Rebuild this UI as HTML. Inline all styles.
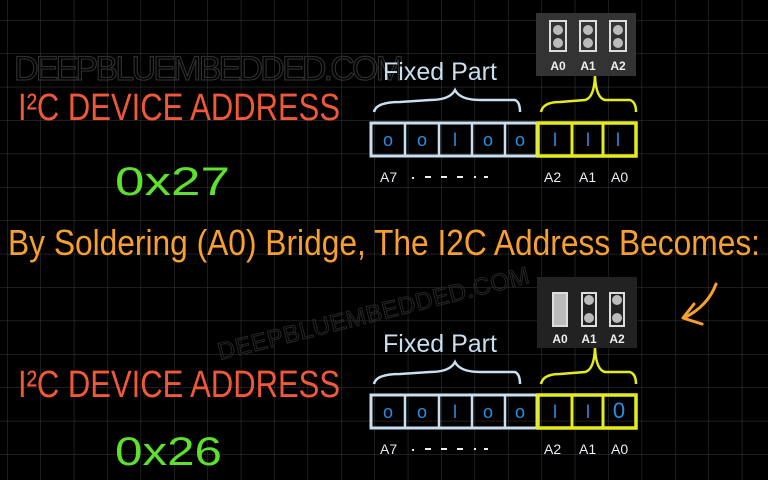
<!DOCTYPE html>
<html><head><meta charset="utf-8"><style>
html,body{margin:0;padding:0;background:#000;}
svg{display:block}
text{font-family:"Liberation Sans",sans-serif}
</style></head><body>
<svg width="768" height="480" viewBox="0 0 768 480" xmlns="http://www.w3.org/2000/svg">
<defs>
<pattern id="g" x="7" y="20" width="33.4" height="33.4" patternUnits="userSpaceOnUse">
<path d="M0 0H33.4M0 0V33.4" stroke="#3a3a3a" stroke-width="1" fill="none"/>
</pattern>
<g id="reg">
  <path d="M374 112 Q376 102 400 102 L430 100 Q450 100 455 90 Q460 100 480 100 L515 100 Q520 102 520 112" stroke="#c9dff0" stroke-width="2.5" fill="none"/>
  <path d="M541 112 Q543 102 560 102 L585 100 Q594 98 595 76 Q596 98 605 100 L630 100 Q636 102 636 112" stroke="#e6ec1c" stroke-width="2.5" fill="none"/>
  <rect x="371" y="123" width="166" height="33" fill="none" stroke="#c9dff0" stroke-width="3"/>
  <path d="M405 123V156M439 123V156M472 123V156M505 123V156" stroke="#c9dff0" stroke-width="2.5"/>
  <rect x="538" y="123" width="98" height="33" fill="none" stroke="#e6ec1c" stroke-width="3.5"/>
  <path d="M572 123V156M603 123V156" stroke="#e6ec1c" stroke-width="3"/>
  <g fill="#2a8de0" font-size="18" text-anchor="middle">
    <text x="388" y="146">o</text><text x="422" y="146">o</text><text x="455" y="146">l</text><text x="488" y="146">o</text><text x="520" y="146">o</text>
    <text x="555" y="146">l</text><text x="588" y="146">l</text>
  </g>
  <g fill="#e8eef4" font-size="14">
    <text x="380" y="182">A7</text>
    <text x="544" y="182">A2</text><text x="579" y="182">A1</text><text x="611" y="182">A0</text>
  </g>
  <path d="M412 178h2M425 177h6M441 177h6M457 177h6M474 177h2M484 177h4" stroke="#e8eef4" stroke-width="2"/>
  <text x="383" y="80" fill="#c9dff0" font-size="25">Fixed Part</text>
</g>
</defs>
<rect width="768" height="480" fill="#000"/>
<rect width="768" height="480" fill="url(#g)"/>

<text x="14" y="80" fill="none" stroke="#2e2e2e" stroke-width="1.2" font-size="34" textLength="390">DEEPBLUEMBEDDED.COM</text>
<text x="220" y="360" fill="none" stroke="#262626" stroke-width="1" font-size="24" transform="rotate(-14 220 360)" textLength="320">DEEPBLUEMBEDDED.COM</text>

<!-- top photo -->
<rect x="536" y="13" width="100" height="63" fill="#333"/>
<g fill="none" stroke="#ddd" stroke-width="2">
<rect x="550" y="21" width="16" height="30"/><rect x="580" y="21" width="16" height="30"/><rect x="610" y="21" width="16" height="30"/>
</g>
<g fill="#bbb"><circle cx="558" cy="30" r="5"/><circle cx="558" cy="43" r="5"/><circle cx="588" cy="30" r="5"/><circle cx="588" cy="43" r="5"/><circle cx="618" cy="30" r="5"/><circle cx="618" cy="43" r="5"/></g>
<g fill="#eee" font-size="12" font-weight="bold" text-anchor="middle"><text x="558" y="70">A0</text><text x="588" y="70">A1</text><text x="618" y="70">A2</text></g>

<!-- bottom photo -->
<rect x="537" y="277" width="100" height="71" fill="#222"/>
<g fill="none" stroke="#ddd" stroke-width="2">
<rect x="553" y="293" width="14" height="33" fill="#bbb"/><rect x="582" y="293" width="14" height="33"/><rect x="610" y="293" width="14" height="33"/>
</g>
<g fill="#bbb"><circle cx="589" cy="300" r="5"/><circle cx="589" cy="318" r="5"/><circle cx="617" cy="300" r="5"/><circle cx="617" cy="318" r="5"/></g>
<g fill="#eee" font-size="12" font-weight="bold" text-anchor="middle"><text x="560" y="343">A0</text><text x="589" y="343">A1</text><text x="617" y="343">A2</text></g>

<use href="#reg"/>
<g transform="translate(0,272)"><use href="#reg"/></g>
<text x="619" y="418" fill="#2a8de0" font-size="22" text-anchor="middle">0</text>
<text x="618" y="146" fill="#2a8de0" font-size="18" text-anchor="middle">l</text>

<!-- titles -->
<text x="18" y="120" fill="#f0583a" font-size="38" textLength="322" lengthAdjust="spacingAndGlyphs">I²C DEVICE ADDRESS</text>
<text x="115" y="195" fill="#5de02e" font-size="40" textLength="115" lengthAdjust="spacingAndGlyphs">0x27</text>
<text x="8" y="255" fill="#f7a030" font-size="36" textLength="752" lengthAdjust="spacingAndGlyphs">By Soldering (A0) Bridge, The I2C Address Becomes:</text>
<text x="18" y="397" fill="#f0583a" font-size="38" textLength="322" lengthAdjust="spacingAndGlyphs">I²C DEVICE ADDRESS</text>
<text x="115" y="465" fill="#5de02e" font-size="40" textLength="107" lengthAdjust="spacingAndGlyphs">0x26</text>

<!-- arrow -->
<path d="M716 284 Q708 306 684 318" stroke="#f7a030" stroke-width="3" fill="none" stroke-linecap="round"/>
<path d="M694 304 L683 318 L702 324" stroke="#f7a030" stroke-width="3" fill="none" stroke-linecap="round" stroke-linejoin="round"/>
</svg>
</body></html>
